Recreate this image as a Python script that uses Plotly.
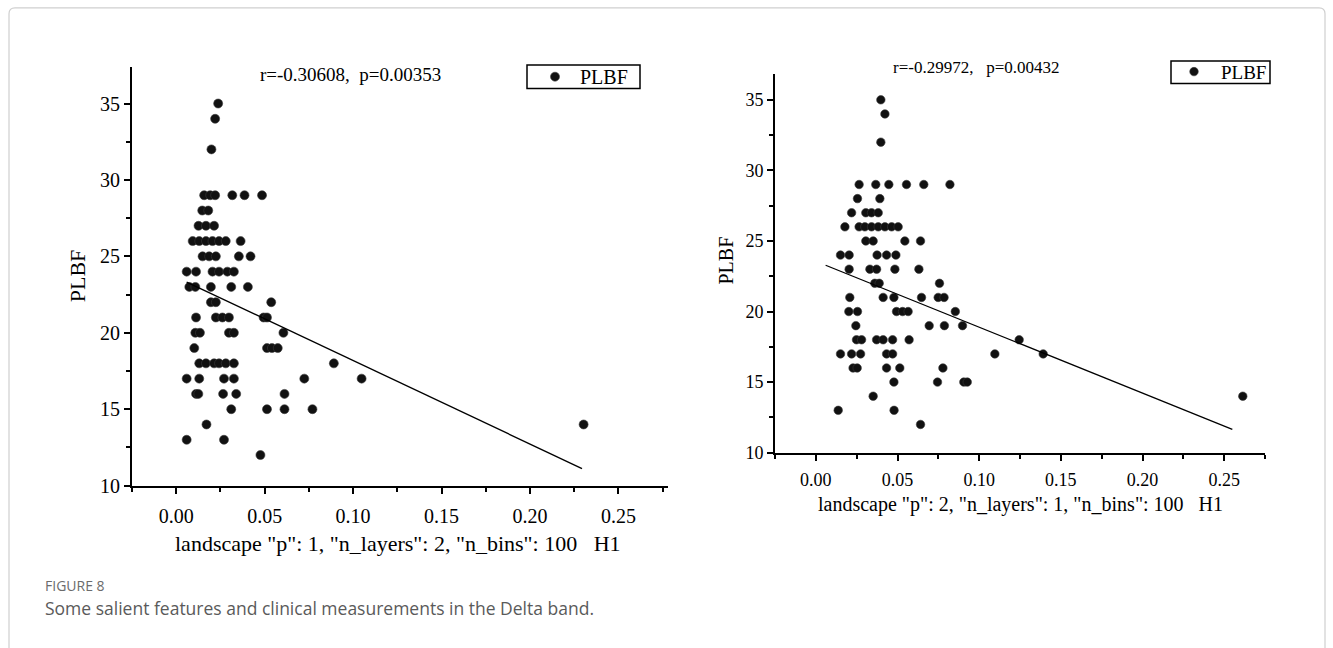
import plotly.graph_objects as go

W, H = 1333, 648
SERIF = "Liberation Serif, Times New Roman, serif"
SANS = "Open Sans, Noto Sans, sans-serif"

# ---- left panel: landscape p=1, n_layers=2, n_bins=100, H1 ----
left_x = [
    0.0237, 0.0220, 0.0199,
    0.0158, 0.0192, 0.0220, 0.0317, 0.0386, 0.0485,
    0.0147, 0.0181,
    0.0126, 0.0168, 0.0214,
    0.0093, 0.0130, 0.0168, 0.0205, 0.0242, 0.0280, 0.0364,
    0.0149, 0.0186, 0.0224, 0.0354, 0.0420,
    0.0059, 0.0112, 0.0205, 0.0242, 0.0289, 0.0326,
    0.0074, 0.0108, 0.0196, 0.0311, 0.0405,
    0.0196, 0.0224, 0.0537,
    0.0112, 0.0224, 0.0261, 0.0298, 0.0494, 0.0513,
    0.0108, 0.0134, 0.0298, 0.0326, 0.0606,
    0.0102, 0.0513, 0.0541, 0.0574,
    0.0130, 0.0168, 0.0214, 0.0242, 0.0280, 0.0326, 0.0891,
    0.0059, 0.0130, 0.0270, 0.0326, 0.0724, 0.1048,
    0.0112, 0.0125, 0.0265, 0.0339, 0.0612,
    0.0311, 0.0513, 0.0612, 0.0770,
    0.0171, 0.2303,
    0.0059, 0.0270,
    0.0476,
]
left_y = (
    [35, 34, 32]
    + [29] * 6 + [28] * 2 + [27] * 3 + [26] * 7 + [25] * 5 + [24] * 6
    + [23] * 5 + [22] * 3 + [21] * 6 + [20] * 5 + [19] * 4 + [18] * 7
    + [17] * 6 + [16] * 5 + [15] * 4 + [14] * 2 + [13] * 2 + [12]
)
left_fit = dict(x=[0.0059, 0.2294], slope=-54.6, intercept=23.64)
left_stats = "r=-0.30608,\u00a0\u00a0p=0.00353"
left_xtitle = 'landscape "p": 1, "n_layers": 2, "n_bins": 100\u00a0\u00a0\u00a0H1'

# ---- right panel: landscape p=2, n_layers=1, n_bins=100, H1 ----
right_x = [
    0.0398, 0.0423, 0.0398,
    0.0265, 0.0367, 0.0447, 0.0555, 0.0661, 0.0821,
    0.0255, 0.0392,
    0.0219, 0.0306, 0.0341, 0.0382,
    0.0178, 0.0265, 0.0300, 0.0341, 0.0382, 0.0423, 0.0464, 0.0504,
    0.0306, 0.0351, 0.0545, 0.0641,
    0.0151, 0.0204, 0.0375, 0.0433, 0.0490,
    0.0204, 0.0331, 0.0372, 0.0484, 0.0631,
    0.0361, 0.0388, 0.0757,
    0.0208, 0.0412, 0.0478, 0.0647, 0.0749, 0.0785,
    0.0202, 0.0255, 0.0494, 0.0531, 0.0565, 0.0854,
    0.0245, 0.0694, 0.0787, 0.0898,
    0.0249, 0.0280, 0.0372, 0.0412, 0.0470, 0.0571, 0.1245,
    0.0151, 0.0219, 0.0274, 0.0433, 0.0470, 0.1096, 0.1392,
    0.0228, 0.0253, 0.0433, 0.0514, 0.0778,
    0.0478, 0.0745, 0.0906, 0.0927,
    0.0351, 0.2614,
    0.0137, 0.0479,
    0.0641,
]
right_y = (
    [35, 34, 32]
    + [29] * 6 + [28] * 2 + [27] * 4 + [26] * 8 + [25] * 4 + [24] * 5
    + [23] * 5 + [22] * 3 + [21] * 6 + [20] * 6 + [19] * 4 + [18] * 7
    + [17] * 7 + [16] * 5 + [15] * 4 + [14] * 2 + [13] * 2 + [12]
)
right_fit = dict(x=[0.0060, 0.2550], slope=-46.7, intercept=23.56)
right_stats = "r=-0.29972,\u00a0\u00a0\u00a0p=0.00432"
right_xtitle = 'landscape "p": 2, "n_layers": 1, "n_bins": 100\u00a0\u00a0\u00a0H1'

series_name = "PLBF"
y_title = "PLBF"
caption_label = "FIGURE 8"
caption_text = "Some salient features and clinical measurements in the Delta band."


def fit_line(fit):
    return [fit["intercept"] + fit["slope"] * v for v in fit["x"]]


def px_x(p):
    return p / W


def px_y(p):
    return 1 - p / H


fig = go.Figure()

marker_style = dict(color="#111111", line=dict(color="#3a3a3a", width=0.6))

fig.add_trace(go.Scatter(
    x=left_x, y=left_y, mode="markers", name=series_name,
    marker=dict(size=9, **marker_style), xaxis="x", yaxis="y", legend="legend",
))
fig.add_trace(go.Scatter(
    x=left_fit["x"], y=fit_line(left_fit), mode="lines",
    line=dict(color="black", width=1.4), xaxis="x", yaxis="y", showlegend=False,
))
fig.add_trace(go.Scatter(
    x=right_x, y=right_y, mode="markers", name=series_name,
    marker=dict(size=8.5, **marker_style), xaxis="x2", yaxis="y2", legend="legend2",
))
fig.add_trace(go.Scatter(
    x=right_fit["x"], y=fit_line(right_fit), mode="lines",
    line=dict(color="black", width=1.3), xaxis="x2", yaxis="y2", showlegend=False,
))


def axis(domain, rng, dtick, minor_dtick, size, anchor):
    return dict(
        domain=domain, range=rng, anchor=anchor,
        showline=True, linecolor="black", linewidth=2,
        ticks="outside", ticklen=6, tickwidth=1.5, tickcolor="black",
        tick0=0 if dtick < 1 else 10, dtick=dtick,
        minor=dict(ticks="outside", ticklen=4, tickwidth=1.5, tickcolor="black",
                   dtick=minor_dtick, showgrid=False),
        showgrid=False, zeroline=False,
        tickfont=dict(family=SERIF, size=size, color="black"),
    )


xl = axis([px_x(132), px_x(668)], [-0.025, 0.278], 0.05, 0.025, 20, "y")
xl.update(tickformat=".2f", ticklabelstandoff=5)
yl = axis([px_y(494), px_y(68)], [10, 37.4], 5, 2.5, 20, "x")
xr = axis([px_x(775), px_x(1265)], [-0.025, 0.275], 0.05, 0.025, 18, "y2")
xr.update(tickformat=".2f", ticklabelstandoff=4)
yr = axis([px_y(460.5), px_y(75.7)], [10, 36.8], 5, 2.5, 18, "x2")

legend_common = dict(
    borderwidth=0, bgcolor="rgba(0,0,0,0)",
    xanchor="left", yanchor="middle", tracegroupgap=0,
)

fig.update_layout(
    width=W, height=H, autosize=False,
    margin=dict(l=0, r=0, t=0, b=0),
    paper_bgcolor="white", plot_bgcolor="white",
    xaxis=xl, yaxis=yl, xaxis2=xr, yaxis2=yr,
    legend=dict(x=px_x(530), y=px_y(78), itemwidth=40,
                font=dict(family=SERIF, size=20, color="black"), **legend_common),
    legend2=dict(x=px_x(1167), y=px_y(73), itemwidth=44,
                 font=dict(family=SERIF, size=19, color="black"), **legend_common),
)

# legend frames
for bx0, bx1, by0, by1 in [(527, 640, 66, 90), (1171, 1270, 62, 85)]:
    fig.add_shape(type="rect", xref="paper", yref="paper",
                  x0=px_x(bx0), x1=px_x(bx1), y0=px_y(by1), y1=px_y(by0),
                  line=dict(color="black", width=1.5), fillcolor="rgba(0,0,0,0)")

annotations = [
    dict(text=left_stats, x=px_x(350), y=px_y(76), font=dict(family=SERIF, size=19)),
    dict(text=right_stats, x=px_x(976), y=px_y(69), font=dict(family=SERIF, size=17)),
    dict(text=left_xtitle, x=px_x(398), y=px_y(553), font=dict(family=SERIF, size=22)),
    dict(text=right_xtitle, x=px_x(1020), y=px_y(513), font=dict(family=SERIF, size=20)),
    dict(text=y_title, x=px_x(77), y=px_y(281), textangle=-90, font=dict(family=SERIF, size=22)),
    dict(text=y_title, x=px_x(726), y=px_y(265), textangle=-90, font=dict(family=SERIF, size=20)),
]
for a in annotations:
    a.update(xref="paper", yref="paper", showarrow=False, xanchor="center", yanchor="middle")
    a["font"]["color"] = "black"

annotations += [
    dict(text=caption_label, x=px_x(43), y=px_y(596), xref="paper", yref="paper",
         showarrow=False, xanchor="left", yanchor="middle",
         font=dict(family=SANS, size=14, color="#6b6b6b")),
    dict(text=caption_text, x=px_x(43), y=px_y(619), xref="paper", yref="paper",
         showarrow=False, xanchor="left", yanchor="middle",
         font=dict(family=SANS, size=17.5, color="#5a5a5a")),
]
fig.update_layout(annotations=annotations)

# thin rounded frame around the whole figure
x0, x1 = px_x(9), px_x(1325)
y1, y0 = px_y(8), px_y(668)
rx, ry = 6 / W, 6 / H
frame = (
    f"M {x0},{y0} L {x0},{y1 - ry} Q {x0},{y1} {x0 + rx},{y1} "
    f"L {x1 - rx},{y1} Q {x1},{y1} {x1},{y1 - ry} L {x1},{y0}"
)
fig.add_shape(type="path", path=frame, xref="paper", yref="paper",
              line=dict(color="#cfcfcf", width=1.2), layer="below")

fig.write_html("out.html")
